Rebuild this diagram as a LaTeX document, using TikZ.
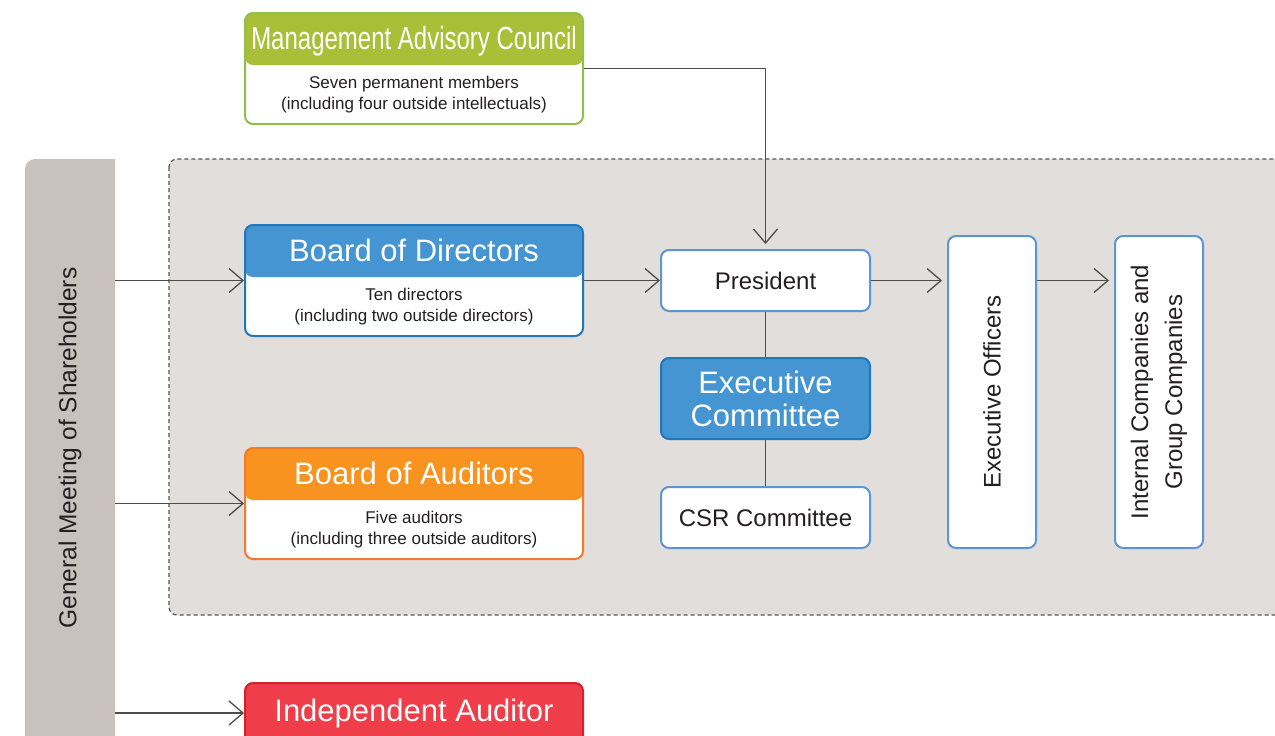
\documentclass[tikz,border=0pt]{standalone}
\usepackage{fontspec}
\setmainfont{Liberation Sans}
\newfontfamily\narrowfont[FakeStretch=0.75]{Liberation Sans}
\usetikzlibrary{arrows.meta}
\definecolor{gmgray}{HTML}{C9C1BE}
\definecolor{areagray}{HTML}{E2DEDC}
\definecolor{arealine}{HTML}{555555}
\definecolor{macgreen}{HTML}{A9BF38}
\definecolor{macline}{HTML}{93BE4A}
\definecolor{bdblue}{HTML}{4495D1}
\definecolor{bdline}{HTML}{1F77BC}
\definecolor{baorange}{HTML}{F7931E}
\definecolor{baline}{HTML}{F47A2A}
\definecolor{iared}{HTML}{EF3D4A}
\definecolor{ialine}{HTML}{D81F2E}
\definecolor{lightline}{HTML}{5B95D3}
\definecolor{linkgray}{HTML}{4D4D4D}
\definecolor{txt}{HTML}{231F20}

\begin{document}
\begin{tikzpicture}[x=1pt,y=-1pt,
       box/.style={rounded corners=8pt, line width=2pt, inner sep=0pt},
       headbox/.style 2 args={box, draw=#2, fill=white, minimum width=338pt, minimum height=111pt,
         path picture={\fill[#1] (path picture bounding box.north west) rectangle ([yshift=-52pt]path picture bounding box.north east);}},
       whitebox/.style={box, draw=lightline, fill=white, text=txt, font=\fontsize{24}{28}\selectfont},
       headtext/.style={text=white, font=\fontsize{31}{33}\selectfont},
       bodytext/.style={text=txt, align=center, font=\fontsize{17}{21}\selectfont},
       link/.style={draw=linkgray, line width=1.3pt},
       arr/.style={link, -{Straight Barb[length=14pt, width=24pt]}}]
       \useasboundingbox (0,0) rectangle (1275,736);

       % shaded areas
       \fill[gmgray] (25,760) [rounded corners=10pt] -- (25,159) -- (65,159) [sharp corners] -- (115,159) -- (115,760) -- cycle;
       \draw[arealine, fill=areagray, line width=1.2pt, dash pattern=on 4pt off 3pt, rounded corners=8pt] (169,159) rectangle (1300,615);
       \node[rotate=90, minimum width=577pt, minimum height=90pt, inner sep=0pt, text=txt, font=\fontsize{24.5}{28}\selectfont] (gm) at (70,448) {General Meeting of Shareholders};

       % boxes
       \node[headbox={macgreen}{macline}] (mac) at (414,68.5) {};
       \node[headtext, font=\narrowfont\fontsize{32}{34}\selectfont] (machead) at ([yshift=-29pt]mac.north) {Management Advisory Council};
       \node[bodytext] (macbody) at ([yshift=30pt]mac.south) {Seven permanent members\\(including four outside intellectuals)};

       \node[headbox={bdblue}{bdline}] (bod) at (414,280.5) {};
       \node[headtext] (bodhead) at ([yshift=-26pt]bod.north) {Board of Directors};
       \node[bodytext] (bodbody) at ([yshift=30pt]bod.south) {Ten directors\\(including two outside directors)};

       \node[headbox={baorange}{baline}] (boa) at (414,503.5) {};
       \node[headtext] (boahead) at ([yshift=-26pt]boa.north) {Board of Auditors};
       \node[bodytext] (boabody) at ([yshift=30pt]boa.south) {Five auditors\\(including three outside auditors)};

       \node[box, headtext, draw=ialine, fill=iared, minimum width=338pt, minimum height=60pt] (ia) at (414,713) {Independent Auditor};

       \node[whitebox, minimum width=209pt, minimum height=61pt] (pres) at (765.5,280.5) {President};
       \node[box, headtext, draw=bdline, fill=bdblue, align=center, minimum width=209pt, minimum height=81pt] (exc) at (765.5,398.5) {Executive\\Committee};
       \node[whitebox, minimum width=209pt, minimum height=61pt] (csr) at (765.5,517.5) {CSR Committee};

       \node[whitebox, minimum width=88pt, minimum height=312pt] (eo) at (992,392) {};
       \node[rotate=90, text=txt, font=\fontsize{24}{28}\selectfont] (eotext) at (eo) {Executive Officers};
       \node[whitebox, minimum width=88pt, minimum height=312pt] (ic) at (1159,392) {};
       \node[rotate=90, text=txt, align=center, font=\fontsize{24}{34}\selectfont] (ictext) at (ic) {Internal Companies and\\Group Companies};

       % connectors
       \draw[arr] (gm.south |- bod.west) -- (bod.west);
       \draw[arr] (gm.south |- boa.west) -- (boa.west);
       \draw[arr] (gm.south |- ia.west) -- (ia.west);
       \draw[arr] (bod.east) -- (pres.west);
       \draw[arr, shorten >=5pt] (mac.east) -| (pres.north);
       \draw[arr, shorten >=5pt] (pres.east) -- (pres.east -| eo.west);
       \draw[arr, shorten >=5pt] (pres.east -| eo.east) -- (pres.east -| ic.west);
       \draw[link] (pres.south) -- (exc.north);
       \draw[link] (exc.south) -- (csr.north);
\end{tikzpicture}
\end{document}
